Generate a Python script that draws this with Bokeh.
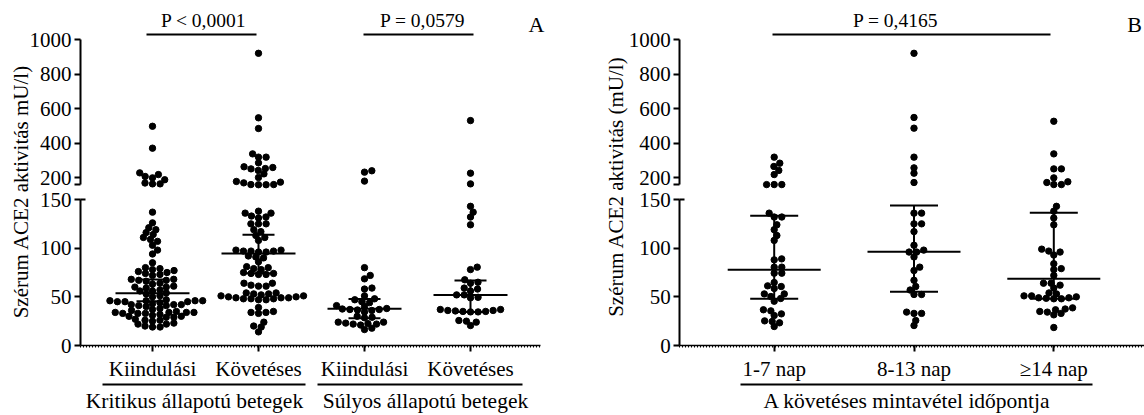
import math
import numpy as np
from bokeh.plotting import figure
from bokeh.models import Range1d, LinearAxis, FixedTicker
from bokeh.layouts import row
from bokeh.embed import file_html
from bokeh.resources import INLINE
from bokeh.core.properties import value

# ------------------------------------------------------------------ data
a_ticks = ["Kiindulási", "Követéses", "Kiindulási", "Követéses"]
a_groups = ["Kritikus állapotú betegek", "Súlyos állapotú betegek"]

krit_kiind = [497, 370, 227, 217, 206, 198, 187, 168, 163, 163,
              137, 126, 121, 119, 116, 114, 111, 109, 107, 103, 98, 94, 85, 80,
              79, 78, 77, 76, 75, 74, 73, 72,
              68, 68, 67, 67, 66, 64, 63, 61, 60, 60, 59, 57, 56, 56,
              54, 53, 51, 50,
              47, 46, 46, 46, 46, 45, 45, 45, 44,
              43, 42, 42, 42, 41, 41, 40, 38, 37, 36,
              35, 34, 34, 34, 34, 33, 33, 33, 32,
              31, 30, 30, 29, 29, 27, 26, 26, 25, 23, 22, 22, 20, 19, 19]
krit_kov = [920, 546, 484, 337, 318, 318, 285, 262, 258, 252, 250, 241, 221,
            200, 177, 173, 169, 159, 159, 158, 158,
            138, 136, 136, 133, 132, 131, 125, 125, 125, 119, 117, 113, 111, 108,
            98, 98, 97, 97, 97, 96, 96, 92, 91, 90, 86,
            81, 80, 79, 78, 75, 74, 74, 73, 73,
            64, 64, 62, 61, 61,
            54, 54, 53, 53, 52, 51, 51, 50, 50, 49, 49, 49, 48, 48, 48, 47, 47,
            39, 35, 34, 34, 33, 24, 20, 19, 14]
sul_kiind = [239, 231, 179,
             80, 72, 68.5, 59, 58, 51, 48, 47, 45, 44, 41, 40, 38, 37.5, 37, 37,
             36.5, 36, 34.5, 30, 29, 28.5, 24, 24, 23, 22.5, 22, 22, 21, 17.8, 16.4]
sul_kov = [530, 225, 163,
           143, 137, 132, 124, 80.5, 78, 67.5, 65, 64, 59, 58, 56, 52, 52, 49.5, 49,
           37, 36, 35.5, 35, 34.5, 34.5, 35, 36, 37, 25.7, 25, 24, 20.5]
a_median = [53.8, 94.5, 37.7, 52.0]
a_ci_low = [45.5, 74.2, 28.1, 34.3]
a_ci_high = [67.7, 113.8, 47.9, 66.9]
a_pvalues = ["P < 0,0001", "P = 0,0579"]

b_ticks = ["1-7 nap", "8-13 nap", "≥14 nap"]
b_group = "A követéses mintavétel időpontja"
nap_1_7 = [318, 283, 264, 241, 217, 159, 159, 159,
           136, 132, 132, 124, 119, 113, 108, 89, 88, 80.5, 80.5, 74.3, 74.3,
           64.7, 61.3, 60.6, 58.6, 53, 53, 50.3, 48.3, 45.5,
           36.7, 35.6, 32.5, 30.8, 25.3, 24.7, 23.3, 19.5]
nap_8_13 = [920, 548, 486, 318, 256, 225, 171,
            136, 136, 125, 125, 117, 103, 98, 96, 96, 91, 80.5, 77, 67, 60.6,
            57, 52.4, 52.4, 34.3, 33, 33, 25.7, 20.5]
nap_14 = [526, 337, 250, 250, 198, 175, 171, 159, 159,
          143, 138, 131, 124, 99, 97, 96, 93, 84, 79, 78, 72, 64, 64, 62, 59,
          54, 53, 51, 51, 50, 49, 49, 48.5, 48, 48,
          38.7, 37.5, 36.7, 35, 34.3, 33, 31.5, 18.5]
b_median = [77.7, 96.2, 68.6]
b_ci_low = [48.1, 55.3, 48.0]
b_ci_high = [133.4, 143.8, 136.3]
b_pvalue = "P = 0,4165"

y_lo_ticks = [0, 50, 100, 150]
y_hi_ticks = [200, 400, 600, 800, 1000]
y_title_a = "Szérum ACE2 aktivitás mU/l)"
y_title_b = "Szérum ACE2 aktivitás (mU/l)"

# ------------------------------------------------------------------ layout
H = 415
FONT = "Liberation Serif"
Y0 = 345.0            # pixel row of value 0
KLO = 146.0 / 150.0   # px per unit, lower segment
Y200 = 177.0          # pixel row of value 200
KHI = 138.0 / 800.0   # px per unit, upper segment
BRK = 150
HI_BOTTOM = 158


def lo_val(px):
    return (Y0 - px) / KLO


def hi_val(px):
    return 200 + (Y200 - px) / KHI


def ypix(v):
    return Y0 - KLO * v if v <= BRK else Y200 - KHI * (v - 200)


def swarm(vals, ax=7.6, ay=5.2):
    """scatter-dot layout: elliptical collision, wider horizontally."""
    ys = [ypix(v) for v in vals]
    order = sorted(range(len(vals)), key=lambda i: -ys[i])
    placed = []
    offs = [0.0] * len(vals)
    for i in order:
        y = ys[i]
        near = [(ox, oy) for ox, oy in placed if abs(oy - y) < ay]
        cands = [0.0]
        for ox, oy in near:
            dx = ax * math.sqrt(max(0.0, 1 - ((oy - y) / ay) ** 2))
            cands += [ox + dx, ox - dx]
        cands.sort(key=lambda c: (round(abs(c), 6), -c))
        for c in cands:
            if all(((c - ox) / ax) ** 2 + ((y - oy) / ay) ** 2 >= 1 - 1e-6 for ox, oy in near):
                offs[i] = c
                break
        placed.append((offs[i], y))
    return offs


def style_axis(ax, size="21px"):
    ax.axis_line_color = "black"
    ax.axis_line_width = 2
    ax.major_tick_line_color = "black"
    ax.major_tick_line_width = 2
    ax.major_tick_out = 6
    ax.major_tick_in = 0
    ax.minor_tick_line_color = None
    ax.major_label_text_font = FONT
    ax.major_label_text_font_size = size
    ax.major_label_text_color = "black"
    ax.major_label_standoff = 3


def build_panel(width, c1, step, yax_px, xend_px, series, ticks, med, lo, hi,
                med_hw, cap_hw, ytitle, ytitle_px, pvals, groups, letter, letter_px):
    xs = 1 - c1 / step
    xe = xs + width / step

    def xval(px):
        return xs + px / step

    p = figure(width=width, height=H, x_range=Range1d(xs, xe),
               y_range=Range1d(lo_val(H), lo_val(0)),
               x_axis_type=None, y_axis_type=None, toolbar_location=None,
               output_backend="svg", min_border=0, outline_line_color=None,
               background_fill_color="white", border_fill_color="white")
    p.extra_y_ranges = {"hi": Range1d(hi_val(H), hi_val(0))}
    yloc = xval(yax_px)

    ax_lo = LinearAxis(ticker=FixedTicker(ticks=y_lo_ticks), bounds=(0, BRK), fixed_location=yloc)
    style_axis(ax_lo)
    p.add_layout(ax_lo, "left")
    ax_hi = LinearAxis(y_range_name="hi", ticker=FixedTicker(ticks=[HI_BOTTOM] + y_hi_ticks),
                       bounds=(HI_BOTTOM, 1000), fixed_location=yloc,
                       major_label_overrides={HI_BOTTOM: ""})
    style_axis(ax_hi)
    p.add_layout(ax_hi, "left")
    ax_t = LinearAxis(ticker=FixedTicker(ticks=[BRK]), fixed_location=yloc,
                      major_label_overrides={BRK: ""})
    style_axis(ax_t)
    ax_t.axis_line_color = None
    ax_t.major_tick_in = 5
    ax_t.major_tick_out = 0
    p.add_layout(ax_t, "left")

    n = len(series)
    xend = xval(xend_px)
    xax = LinearAxis(ticker=FixedTicker(ticks=list(range(1, n + 1)),
                                        minor_ticks=list(np.arange(yloc, xend, 3.0 / step))),
                     bounds=(yloc, xend), fixed_location=0,
                     major_label_overrides={i + 1: t for i, t in enumerate(ticks)})
    style_axis(xax)
    xax.axis_line_width = 1.5
    xax.minor_tick_line_color = "black"
    xax.minor_tick_line_width = 1
    xax.minor_tick_out = 2
    xax.minor_tick_in = 0
    xax.major_label_standoff = 5
    p.add_layout(xax, "below")

    lx, ly, hx, hy = [], [], [], []
    for gi, vals in enumerate(series):
        offs = swarm(vals)
        for v, o in zip(vals, offs):
            x = gi + 1 + o / step
            if v > BRK:
                hx.append(x); hy.append(v)
            else:
                lx.append(x); ly.append(v)
    p.scatter(lx, ly, size=6.4, color="black")
    p.scatter(hx, hy, size=6.4, color="black", y_range_name="hi")

    cx = np.arange(1, n + 1, dtype=float)
    med = np.array(med); lo = np.array(lo); hi = np.array(hi)
    p.segment(cx - med_hw / step, med, cx + med_hw / step, med, line_width=2, color="black")
    p.segment(cx, lo, cx, hi, line_width=2, color="black")
    p.segment(cx - cap_hw / step, lo, cx + cap_hw / step, lo, line_width=2, color="black")
    p.segment(cx - cap_hw / step, hi, cx + cap_hw / step, hi, line_width=2, color="black")

    # p-value brackets
    for txt, x0px, x1px, tpx in pvals:
        p.segment([xval(x0px)], [hi_val(34)], [xval(x1px)], [hi_val(34)],
                  line_width=1.8, color="black", y_range_name="hi")
        p.text([xval(tpx)], [hi_val(20)], text=[txt], text_font=value(FONT),
               text_font_size="19.5px", text_align="center", text_baseline="middle",
               text_color="black", y_range_name="hi")

    # group labels under the axis
    for txt, x0px, x1px, tpx in groups:
        p.segment([xval(x0px)], [lo_val(384)], [xval(x1px)], [lo_val(384)],
                  line_width=1.8, color="black")
        p.text([xval(tpx)], [lo_val(400)], text=[txt], text_font=value(FONT),
               text_font_size="21.5px", text_align="center", text_baseline="middle",
               text_color="black")

    # y title
    p.text([xval(ytitle_px[0])], [lo_val(ytitle_px[1])], text=[ytitle], angle=math.pi / 2,
           text_font=value(FONT), text_font_size="21px", text_align="center",
           text_baseline="middle", text_color="black")
    # panel letter
    p.text([xval(letter_px[0])], [hi_val(letter_px[1])], text=[letter], text_font=value(FONT),
           text_font_size="22px", text_align="center", text_baseline="middle",
           text_color="black", y_range_name="hi")
    return p


pA = build_panel(572, 152, 106, 80, 540,
                 [krit_kiind, krit_kov, sul_kiind, sul_kov], a_ticks,
                 a_median, a_ci_low, a_ci_high, 37, 16,
                 y_title_a, (20, 191),
                 [(a_pvalues[0], 146, 256, 203), (a_pvalues[1], 363, 473, 422)],
                 [(a_groups[0], 102, 305, 194), (a_groups[1], 317, 522, 425)],
                 "A", (536, 24))

pB = build_panel(572, 201.7, 139.8, 107.3, 572,
                 [nap_1_7, nap_8_13, nap_14], b_ticks,
                 b_median, b_ci_low, b_ci_high, 46.5, 24,
                 y_title_b, (43, 186),
                 [(b_pvalue, 200, 478, 323)],
                 [(b_group, 168, 520, 334.7)],
                 "B", (562, 24))

layout = row(pA, pB, spacing=0)
open("out.html", "w").write(file_html(layout, INLINE))
